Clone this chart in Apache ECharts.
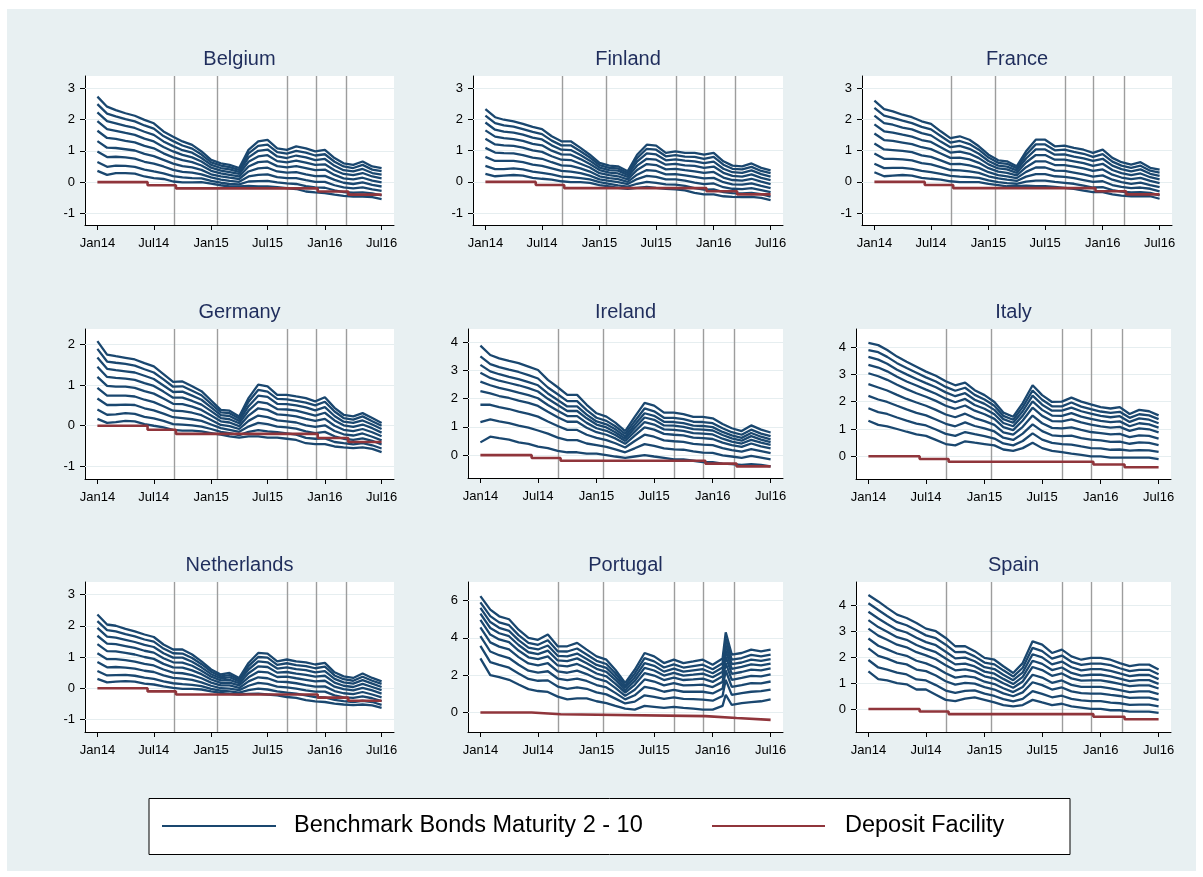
<!DOCTYPE html>
<html><head><meta charset="utf-8">
<script src="https://cdn.jsdelivr.net/npm/echarts@6/dist/echarts.min.js"></script>
<style>
html,body{margin:0;padding:0;background:#fff;}
#bg{position:absolute;left:7px;top:9px;width:1189px;height:862px;background:#e8f0f2;}
#chart{position:absolute;left:0;top:0;width:1203px;height:877px;}
</style>
</head><body><div id="bg"></div><div id="chart"></div>
<script>
// ---------------- DATA ----------------
const monthDates = ['2014-01-01','2014-02-01','2014-03-01','2014-04-01','2014-05-01','2014-06-01','2014-07-01','2014-08-01','2014-09-01','2014-10-01','2014-11-01','2014-12-01',
 '2015-01-01','2015-02-01','2015-03-01','2015-04-01','2015-05-01','2015-06-01','2015-07-01','2015-08-01','2015-09-01','2015-10-01','2015-11-01','2015-12-01',
 '2016-01-01','2016-02-01','2016-03-01','2016-04-01','2016-05-01','2016-06-01','2016-07-01'];
// Portugal has one extra observation at its February 2016 spike
const portugalDates = ['2014-01-01','2014-02-01','2014-03-01','2014-04-01','2014-05-01','2014-06-01','2014-07-01','2014-08-01','2014-09-01','2014-10-01','2014-11-01','2014-12-01',
 '2015-01-01','2015-02-01','2015-03-01','2015-04-01','2015-05-01','2015-06-01','2015-07-01','2015-08-01','2015-09-01','2015-10-01','2015-11-01','2015-12-01',
 '2016-01-01','2016-02-01','2016-02-11','2016-03-01','2016-04-01','2016-05-01','2016-06-01','2016-07-01'];
const xTickDates = ['2014-01-01','2014-07-01','2015-01-01','2015-07-01','2016-01-01','2016-07-01'];
const xTickLabels = ['Jan14','Jul14','Jan15','Jul15','Jan16','Jul16'];
const eventDates = ['2014-09-04','2015-01-22','2015-09-03','2015-12-03','2016-03-10'];
const depositDates = ['2014-01-01','2014-06-11','2014-09-10','2015-12-09','2016-03-16','2016-07-01'];
const depositRates = [0,-0.1,-0.2,-0.3,-0.4,-0.4];
const countryNames = ['Belgium','Finland','France','Germany','Ireland','Italy','Netherlands','Portugal','Spain'];
const TICKS_CORE = [-1,0,1,2,3];
const TICKS_DE = [-1,0,1,2];
const TICKS_HIGH = [0,1,2,3,4];
const TICKS_PT = [0,2,4,6];

// Belgium 2y..10y
const BE_2 = [.36,.23,.29,.29,.27,.18,.13,.10,.02,-.01,-.01,0,-.05,-.10,-.14,-.14,-.12,-.14,-.14,-.16,-.19,-.22,-.30,-.33,-.35,-.40,-.44,-.46,-.46,-.48,-.54];
const BE_3 = [.64,.49,.53,.52,.49,.40,.34,.28,.19,.15,.13,.12,.04,-.02,-.06,-.07,.02,.03,.04,-.01,-.04,-.06,-.13,-.17,-.18,-.26,-.32,-.34,-.33,-.36,-.42];
const BE_4 = [.98,.80,.81,.79,.75,.65,.59,.50,.39,.33,.30,.25,.15,.08,.04,.01,.18,.23,.25,.16,.13,.13,.06,.01,.01,-.10,-.17,-.20,-.17,-.23,-.28];
const BE_5 = [1.31,1.10,1.09,1.05,1.01,.90,.83,.71,.59,.51,.47,.39,.25,.18,.14,.10,.34,.44,.46,.34,.30,.32,.25,.19,.20,.07,-.02,-.06,-.01,-.09,-.14];
const BE_6 = [1.64,1.41,1.38,1.32,1.27,1.16,1.08,.92,.79,.70,.64,.53,.36,.28,.23,.18,.50,.64,.66,.51,.47,.51,.45,.38,.40,.23,.12,.09,.14,.05,-.01];
const BE_7 = [1.95,1.69,1.64,1.57,1.51,1.39,1.30,1.12,.98,.87,.79,.66,.46,.37,.32,.26,.65,.82,.86,.67,.63,.69,.62,.55,.57,.38,.26,.22,.29,.18,.12];
const BE_8 = [2.23,1.95,1.88,1.80,1.73,1.61,1.51,1.30,1.15,1.02,.94,.77,.55,.45,.41,.33,.79,1.00,1.04,.82,.77,.85,.79,.70,.74,.52,.38,.34,.42,.29,.24];
const BE_9 = [2.49,2.19,2.10,2.01,1.94,1.81,1.71,1.47,1.31,1.17,1.07,.88,.63,.53,.48,.39,.92,1.16,1.20,.96,.91,1.00,.94,.85,.89,.65,.50,.45,.55,.40,.35];
const BE_10 = [2.73,2.41,2.30,2.20,2.12,1.99,1.88,1.62,1.45,1.30,1.19,.98,.71,.60,.55,.45,1.03,1.30,1.35,1.08,1.03,1.14,1.08,.98,1.03,.77,.60,.55,.66,.50,.45];

// Finland
const FI_2 = [.26,.18,.20,.22,.20,.13,.10,.07,.02,-.01,-.01,-.03,-.10,-.14,-.19,-.22,-.19,-.16,-.19,-.22,-.24,-.27,-.35,-.40,-.40,-.46,-.48,-.49,-.48,-.51,-.58];
const FI_3 = [.51,.41,.41,.43,.40,.33,.29,.24,.17,.15,.12,.08,-.01,-.06,-.11,-.15,-.06,0,-.03,-.08,-.09,-.13,-.20,-.25,-.24,-.33,-.36,-.37,-.35,-.39,-.47];
const FI_4 = [.80,.67,.67,.67,.63,.55,.51,.43,.35,.33,.28,.20,.08,.03,-.01,-.07,.09,.19,.16,.08,.08,.04,-.02,-.07,-.05,-.17,-.22,-.23,-.20,-.26,-.33];
const FI_5 = [1.09,.94,.92,.91,.86,.78,.74,.63,.53,.51,.43,.33,.18,.12,.09,0,.23,.38,.35,.24,.25,.21,.16,.11,.13,-.01,-.08,-.09,-.05,-.13,-.20];
const FI_6 = [1.38,1.20,1.17,1.15,1.10,1.01,.96,.82,.71,.70,.58,.46,.28,.22,.18,.08,.38,.57,.54,.40,.42,.38,.34,.29,.32,.14,.06,.04,.10,.01,-.07];
const FI_7 = [1.65,1.45,1.40,1.37,1.31,1.22,1.17,1.00,.88,.87,.73,.57,.38,.30,.27,.16,.52,.74,.71,.55,.58,.53,.51,.45,.49,.29,.19,.17,.24,.13,.06];
const FI_8 = [1.90,1.67,1.61,1.58,1.51,1.42,1.36,1.17,1.03,1.02,.86,.68,.46,.38,.36,.22,.65,.91,.88,.69,.72,.68,.66,.60,.65,.42,.31,.29,.37,.25,.17];
const FI_9 = [2.12,1.88,1.81,1.77,1.69,1.60,1.53,1.32,1.17,1.17,.98,.78,.54,.45,.43,.28,.76,1.06,1.03,.82,.86,.81,.80,.74,.80,.55,.42,.40,.48,.35,.28];
const FI_10 = [2.33,2.07,1.99,1.94,1.86,1.76,1.69,1.46,1.30,1.30,1.09,.87,.61,.52,.50,.34,.87,1.19,1.16,.93,.98,.93,.93,.87,.93,.66,.52,.50,.59,.45,.37];

// France
const FR_2 = [.31,.18,.20,.22,.20,.13,.10,.07,.02,-.01,-.01,-.01,-.06,-.10,-.14,-.14,-.12,-.14,-.14,-.16,-.19,-.22,-.28,-.33,-.33,-.40,-.44,-.46,-.46,-.46,-.54];
const FR_3 = [.58,.44,.45,.45,.42,.35,.31,.26,.19,.17,.15,.13,.05,-.01,-.04,-.06,.01,.04,.04,0,-.03,-.06,-.12,-.18,-.17,-.26,-.31,-.34,-.33,-.35,-.43];
const FR_4 = [.91,.74,.74,.72,.69,.60,.56,.47,.38,.37,.34,.29,.18,.11,.07,.03,.17,.25,.25,.18,.16,.12,.06,0,.02,-.10,-.16,-.20,-.18,-.22,-.30];
const FR_5 = [1.23,1.04,1.02,.99,.95,.85,.80,.69,.57,.58,.53,.45,.31,.22,.18,.12,.32,.46,.46,.36,.35,.30,.24,.17,.21,.07,-.01,-.06,-.02,-.10,-.17];
const FR_6 = [1.55,1.34,1.31,1.26,1.21,1.11,1.05,.91,.77,.78,.72,.61,.44,.33,.29,.21,.47,.66,.66,.54,.54,.49,.43,.35,.40,.23,.14,.09,.13,.03,-.04];
const FR_7 = [1.84,1.62,1.58,1.51,1.45,1.34,1.28,1.11,.94,.97,.90,.76,.56,.43,.40,.29,.62,.86,.86,.71,.71,.66,.60,.51,.58,.38,.28,.22,.27,.15,.08];
const FR_8 = [2.12,1.88,1.83,1.74,1.68,1.56,1.49,1.29,1.11,1.15,1.06,.90,.67,.52,.49,.37,.75,1.04,1.04,.87,.88,.81,.75,.67,.74,.52,.41,.34,.40,.26,.19];
const FR_9 = [2.37,2.12,2.05,1.96,1.88,1.76,1.68,1.47,1.26,1.31,1.21,1.03,.78,.61,.58,.44,.87,1.20,1.20,1.01,1.03,.96,.90,.80,.89,.65,.52,.45,.52,.36,.30];
const FR_10 = [2.60,2.33,2.26,2.15,2.07,1.94,1.86,1.62,1.40,1.46,1.35,1.14,.87,.69,.66,.50,.98,1.35,1.35,1.14,1.16,1.09,1.03,.93,1.03,.77,.63,.55,.63,.45,.39];

// Germany
const DE_2 = [.17,.07,.09,.12,.11,.04,0,-.04,-.10,-.12,-.12,-.14,-.18,-.22,-.26,-.29,-.26,-.26,-.29,-.29,-.32,-.35,-.43,-.45,-.45,-.51,-.53,-.55,-.53,-.57,-.65];
const DE_3 = [.40,.27,.28,.31,.29,.22,.18,.12,.04,.03,.01,-.02,-.08,-.15,-.18,-.23,-.15,-.11,-.14,-.16,-.19,-.22,-.30,-.32,-.31,-.40,-.43,-.46,-.43,-.48,-.56];
const DE_4 = [.67,.51,.51,.52,.51,.43,.38,.30,.21,.19,.16,.12,.03,-.06,-.10,-.15,-.02,.07,.04,-.02,-.04,-.07,-.14,-.18,-.15,-.26,-.32,-.35,-.31,-.37,-.46];
const DE_5 = [.93,.74,.74,.74,.72,.64,.58,.48,.37,.36,.32,.26,.14,.02,-.01,-.08,.12,.25,.21,.13,.11,.08,.01,-.03,.01,-.13,-.21,-.24,-.19,-.27,-.36];
const DE_6 = [1.20,.98,.96,.96,.93,.85,.79,.67,.54,.53,.47,.39,.25,.11,.08,-.01,.25,.43,.39,.28,.26,.23,.17,.12,.17,0,-.10,-.13,-.08,-.16,-.26];
const DE_7 = [1.45,1.20,1.18,1.16,1.13,1.05,.98,.84,.69,.69,.61,.52,.36,.19,.16,.06,.37,.59,.55,.41,.40,.37,.31,.25,.32,.13,.01,-.03,.03,-.06,-.17];
const DE_8 = [1.68,1.40,1.37,1.34,1.31,1.23,1.15,.99,.83,.84,.74,.64,.45,.26,.24,.12,.48,.74,.71,.54,.53,.50,.45,.38,.46,.24,.10,.07,.13,.03,-.08];
const DE_9 = [1.89,1.58,1.55,1.52,1.48,1.39,1.31,1.14,.96,.97,.86,.75,.54,.33,.31,.18,.59,.88,.84,.66,.65,.61,.57,.50,.59,.35,.19,.15,.23,.11,0];
const DE_10 = [2.08,1.75,1.71,1.67,1.63,1.54,1.46,1.27,1.08,1.09,.97,.85,.62,.39,.37,.23,.68,1.01,.97,.76,.76,.72,.68,.60,.70,.44,.27,.23,.31,.19,.07];

// Ireland
const IE_2 = [.45,.65,.60,.55,.45,.40,.30,.25,.15,.10,.10,.05,.05,0,-.05,-.10,-.05,0,-.05,-.10,-.15,-.15,-.20,-.25,-.25,-.30,-.32,-.35,-.32,-.35,-.40];
const IE_3 = [1.17,1.26,1.19,1.13,1.04,.97,.87,.76,.62,.53,.53,.41,.35,.29,.20,.10,.24,.39,.33,.24,.20,.19,.13,.09,.08,-.01,-.05,-.10,-.03,-.09,-.15];
const IE_4 = [1.78,1.78,1.70,1.63,1.54,1.46,1.36,1.19,1.03,.89,.89,.72,.61,.53,.42,.27,.50,.72,.65,.52,.49,.47,.40,.37,.35,.25,.18,.12,.21,.14,.07];
const IE_5 = [2.26,2.18,2.09,2.02,1.93,1.85,1.74,1.53,1.34,1.18,1.18,.97,.81,.72,.59,.40,.69,.98,.90,.75,.72,.70,.62,.60,.57,.44,.35,.29,.41,.31,.24];
const IE_6 = [2.60,2.47,2.38,2.30,2.21,2.12,2.01,1.77,1.57,1.38,1.38,1.14,.95,.86,.71,.50,.83,1.17,1.08,.91,.89,.86,.78,.76,.73,.58,.48,.41,.54,.44,.36];
const IE_7 = [2.91,2.73,2.63,2.55,2.47,2.37,2.25,1.99,1.77,1.56,1.56,1.30,1.08,.98,.81,.58,.96,1.33,1.25,1.05,1.04,1.00,.92,.90,.87,.71,.59,.51,.67,.55,.46];
const IE_8 = [3.19,2.96,2.86,2.77,2.69,2.58,2.47,2.18,1.95,1.72,1.72,1.43,1.19,1.09,.91,.66,1.07,1.48,1.39,1.18,1.17,1.13,1.04,1.03,.99,.82,.70,.61,.78,.65,.56];
const IE_9 = [3.49,3.22,3.11,3.02,2.94,2.83,2.71,2.39,2.15,1.91,1.91,1.59,1.32,1.21,1.02,.75,1.20,1.65,1.55,1.32,1.32,1.27,1.18,1.17,1.13,.95,.81,.72,.90,.76,.67];
const IE_10 = [3.87,3.54,3.42,3.33,3.25,3.13,3.01,2.66,2.40,2.13,2.13,1.78,1.48,1.36,1.15,.85,1.35,1.85,1.75,1.50,1.50,1.45,1.35,1.35,1.30,1.10,.95,.85,1.05,.90,.80];

// Italy
const IT_2 = [1.30,1.15,1.10,1.00,.90,.80,.75,.60,.45,.40,.55,.50,.45,.40,.25,.20,.30,.50,.30,.20,.15,.10,.05,0,0,-.05,-.05,-.05,-.05,-.05,-.10];
const IT_3 = [1.76,1.62,1.55,1.42,1.31,1.20,1.13,.98,.82,.75,.89,.81,.74,.65,.47,.40,.56,.84,.61,.49,.45,.43,.36,.30,.29,.24,.25,.21,.23,.22,.16];
const IT_4 = [2.21,2.08,1.99,1.85,1.72,1.59,1.50,1.35,1.19,1.10,1.24,1.11,1.02,.91,.68,.60,.83,1.17,.92,.77,.74,.76,.67,.61,.58,.53,.54,.46,.51,.49,.41];
const IT_5 = [2.64,2.52,2.41,2.25,2.10,1.97,1.85,1.70,1.53,1.43,1.56,1.40,1.29,1.15,.88,.79,1.08,1.49,1.21,1.04,1.02,1.06,.97,.89,.85,.80,.82,.70,.77,.75,.65];
const IT_6 = [3.04,2.93,2.80,2.62,2.46,2.31,2.18,2.03,1.85,1.74,1.86,1.67,1.54,1.37,1.07,.96,1.31,1.78,1.48,1.29,1.28,1.35,1.24,1.16,1.10,1.05,1.08,.93,1.02,.99,.88];
const IT_7 = [3.35,3.25,3.11,2.91,2.74,2.59,2.44,2.29,2.11,1.98,2.10,1.88,1.74,1.54,1.22,1.10,1.49,2.01,1.70,1.49,1.48,1.58,1.45,1.37,1.30,1.25,1.28,1.10,1.21,1.17,1.05];
const IT_8 = [3.64,3.54,3.39,3.17,3.00,2.83,2.68,2.53,2.34,2.20,2.31,2.07,1.92,1.70,1.36,1.23,1.65,2.22,1.89,1.67,1.67,1.78,1.65,1.56,1.48,1.43,1.47,1.26,1.39,1.34,1.21];
const IT_9 = [3.89,3.81,3.64,3.41,3.23,3.06,2.89,2.74,2.54,2.40,2.51,2.25,2.08,1.85,1.48,1.34,1.80,2.41,2.07,1.83,1.83,1.97,1.82,1.73,1.64,1.59,1.63,1.41,1.54,1.50,1.36];
const IT_10 = [4.15,4.07,3.89,3.65,3.46,3.28,3.10,2.95,2.75,2.60,2.70,2.42,2.24,1.99,1.60,1.45,1.95,2.60,2.24,1.99,2.00,2.15,2.00,1.90,1.80,1.75,1.80,1.55,1.70,1.65,1.50];

// Netherlands
const NL_2 = [.30,.19,.21,.23,.21,.15,.12,.06,.01,-.02,-.02,-.04,-.10,-.15,-.18,-.20,-.18,-.17,-.20,-.23,-.28,-.31,-.38,-.42,-.44,-.49,-.52,-.54,-.52,-.55,-.63];
const NL_3 = [.55,.41,.42,.43,.40,.34,.30,.22,.16,.13,.11,.07,-.02,-.08,-.10,-.14,-.06,-.01,-.04,-.10,-.14,-.17,-.23,-.28,-.29,-.37,-.41,-.44,-.40,-.44,-.53];
const NL_4 = [.84,.67,.68,.66,.63,.56,.52,.41,.33,.31,.27,.19,.08,0,-.01,-.06,.08,.17,.14,.05,.03,-.01,-.07,-.11,-.11,-.23,-.29,-.31,-.26,-.32,-.41];
const NL_5 = [1.12,.93,.93,.90,.85,.78,.73,.60,.50,.48,.42,.32,.18,.09,.09,.01,.22,.35,.32,.21,.20,.16,.10,.05,.06,-.09,-.16,-.19,-.12,-.20,-.29];
const NL_6 = [1.41,1.19,1.18,1.13,1.08,1.00,.94,.78,.67,.66,.57,.45,.28,.17,.18,.09,.35,.53,.51,.36,.37,.32,.27,.22,.24,.05,-.03,-.07,.01,-.07,-.17];
const NL_7 = [1.68,1.43,1.41,1.35,1.29,1.20,1.14,.96,.83,.82,.72,.56,.37,.25,.27,.16,.48,.70,.68,.50,.52,.47,.43,.37,.40,.18,.08,.04,.14,.04,-.06];
const NL_8 = [1.93,1.65,1.62,1.55,1.48,1.39,1.32,1.12,.98,.98,.85,.67,.45,.32,.35,.22,.60,.86,.83,.63,.67,.61,.58,.51,.55,.30,.19,.15,.26,.15,.04];
const NL_9 = [2.15,1.86,1.82,1.73,1.66,1.56,1.49,1.27,1.12,1.11,.97,.77,.53,.38,.42,.28,.71,1.00,.98,.75,.80,.74,.71,.64,.69,.41,.29,.24,.37,.24,.14];
const NL_10 = [2.36,2.04,2.00,1.90,1.82,1.72,1.64,1.40,1.24,1.24,1.08,.86,.60,.44,.49,.33,.81,1.13,1.11,.86,.92,.86,.83,.76,.81,.51,.38,.33,.47,.33,.22];

// Portugal (32 observations, see portugalDates)
const PT_2 = [2.90,2.00,1.90,1.75,1.50,1.25,1.15,1.10,.85,.70,.75,.75,.60,.50,.35,.20,.15,.35,.30,.25,.30,.25,.20,.15,.15,.35,.95,.40,.50,.55,.60,.70];
const PT_3 = [3.57,2.70,2.55,2.40,2.09,1.80,1.70,1.72,1.39,1.27,1.35,1.27,1.08,.97,.74,.48,.58,.92,.84,.73,.81,.73,.71,.69,.63,.88,1.75,.94,1.04,1.11,1.14,1.23];
const PT_4 = [4.10,3.27,3.07,2.92,2.56,2.24,2.14,2.21,1.82,1.73,1.82,1.69,1.47,1.34,1.05,.70,.92,1.37,1.28,1.11,1.21,1.11,1.11,1.11,1.02,1.28,2.25,1.37,1.47,1.57,1.56,1.66];
const PT_5 = [4.57,3.76,3.53,3.38,2.97,2.63,2.53,2.64,2.20,2.13,2.24,2.06,1.81,1.67,1.32,.89,1.22,1.77,1.66,1.45,1.57,1.45,1.47,1.49,1.36,1.64,2.65,1.75,1.85,1.96,1.94,2.04];
const PT_6 = [4.97,4.18,3.92,3.77,3.32,2.96,2.86,3.01,2.52,2.47,2.60,2.37,2.09,1.94,1.55,1.06,1.48,2.11,1.98,1.74,1.87,1.74,1.77,1.81,1.64,1.94,3.00,2.07,2.17,2.30,2.26,2.36];
const PT_7 = [5.30,4.53,4.25,4.09,3.62,3.23,3.13,3.32,2.79,2.75,2.90,2.64,2.34,2.18,1.75,1.19,1.69,2.39,2.25,1.98,2.12,1.98,2.03,2.08,1.89,2.19,3.30,2.34,2.44,2.58,2.53,2.62];
const PT_8 = [5.61,4.85,4.54,4.38,3.88,3.48,3.38,3.59,3.04,3.01,3.16,2.87,2.55,2.39,1.92,1.32,1.88,2.65,2.50,2.19,2.35,2.19,2.26,2.32,2.10,2.41,3.60,2.59,2.68,2.83,2.77,2.86];
const PT_9 = [5.91,5.17,4.83,4.68,4.15,3.73,3.63,3.87,3.28,3.27,3.43,3.11,2.77,2.60,2.10,1.44,2.08,2.91,2.74,2.41,2.58,2.41,2.49,2.56,2.32,2.64,3.95,2.83,2.92,3.09,3.01,3.10];
const PT_10 = [6.24,5.52,5.16,5.00,4.44,4.00,3.90,4.18,3.55,3.55,3.73,3.37,3.01,2.83,2.29,1.58,2.29,3.19,3.01,2.65,2.83,2.65,2.74,2.83,2.56,2.89,4.30,3.10,3.19,3.37,3.28,3.37];

// Spain
const ES_2 = [1.45,1.15,1.10,1.00,.95,.75,.75,.55,.35,.30,.40,.45,.35,.25,.15,.10,.15,.35,.25,.15,.20,.10,.05,0,0,-.05,-.05,-.10,-.10,-.10,-.15];
const ES_3 = [1.89,1.60,1.52,1.40,1.33,1.14,1.10,.92,.71,.62,.70,.72,.59,.50,.38,.29,.39,.69,.58,.45,.51,.39,.33,.30,.30,.24,.22,.16,.17,.17,.10];
const ES_4 = [2.34,2.05,1.94,1.79,1.72,1.52,1.46,1.29,1.07,.94,1.01,.98,.84,.75,.60,.49,.64,1.03,.92,.75,.83,.68,.61,.59,.59,.54,.50,.43,.44,.44,.35];
const ES_5 = [2.72,2.44,2.30,2.14,2.05,1.86,1.76,1.60,1.38,1.21,1.27,1.22,1.05,.96,.80,.65,.85,1.32,1.21,1.01,1.10,.93,.85,.85,.85,.79,.73,.65,.68,.68,.57];
const ES_6 = [3.10,2.83,2.67,2.48,2.38,2.19,2.07,1.92,1.69,1.49,1.53,1.45,1.26,1.17,.99,.82,1.06,1.62,1.50,1.28,1.37,1.18,1.09,1.10,1.10,1.04,.97,.88,.91,.91,.79];
const ES_7 = [3.43,3.16,2.98,2.77,2.67,2.47,2.32,2.19,1.95,1.72,1.75,1.64,1.44,1.36,1.16,.96,1.24,1.86,1.74,1.50,1.60,1.39,1.29,1.32,1.32,1.26,1.17,1.07,1.11,1.11,.97];
const ES_8 = [3.75,3.49,3.28,3.06,2.95,2.75,2.58,2.46,2.21,1.95,1.98,1.84,1.61,1.54,1.32,1.11,1.41,2.11,1.99,1.72,1.83,1.61,1.49,1.54,1.54,1.47,1.37,1.27,1.31,1.31,1.15];
const ES_9 = [4.08,3.82,3.59,3.35,3.23,3.04,2.84,2.73,2.48,2.19,2.20,2.03,1.79,1.72,1.49,1.25,1.59,2.36,2.23,1.94,2.06,1.82,1.70,1.75,1.75,1.69,1.57,1.46,1.51,1.51,1.34];
const ES_10 = [4.40,4.15,3.90,3.64,3.51,3.32,3.10,3.00,2.74,2.42,2.42,2.23,1.97,1.90,1.65,1.39,1.77,2.61,2.48,2.16,2.29,2.03,1.90,1.97,1.97,1.90,1.77,1.65,1.71,1.71,1.52];

// ---------------- LAYOUT / STYLE ----------------
const FONT = '"Liberation Sans", Arial, Helvetica, sans-serif';
const BLUE = '#1a476f', RED = '#90353b';
const ts = s => Date.parse(s + 'T00:00:00Z');

const panels = [
  {name: countryNames[0], dates: monthDates, series: [BE_2,BE_3,BE_4,BE_5,BE_6,BE_7,BE_8,BE_9,BE_10], ticks: TICKS_CORE, yMin: -1.37, yMax: 3.39, left: 85,  top: 76,  width: 309, height: 149},
  {name: countryNames[1], dates: monthDates, series: [FI_2,FI_3,FI_4,FI_5,FI_6,FI_7,FI_8,FI_9,FI_10], ticks: TICKS_CORE, yMin: -1.38, yMax: 3.39, left: 473, top: 76,  width: 310, height: 149},
  {name: countryNames[2], dates: monthDates, series: [FR_2,FR_3,FR_4,FR_5,FR_6,FR_7,FR_8,FR_9,FR_10], ticks: TICKS_CORE, yMin: -1.38, yMax: 3.39, left: 862, top: 76,  width: 310, height: 149},
  {name: countryNames[3], dates: monthDates, series: [DE_2,DE_3,DE_4,DE_5,DE_6,DE_7,DE_8,DE_9,DE_10], ticks: TICKS_DE,   yMin: -1.31, yMax: 2.38, left: 85,  top: 329, width: 309, height: 150},
  {name: countryNames[4], dates: monthDates, series: [IE_2,IE_3,IE_4,IE_5,IE_6,IE_7,IE_8,IE_9,IE_10], ticks: TICKS_HIGH, yMin: -0.81, yMax: 4.46, left: 468, top: 329, width: 315, height: 149},
  {name: countryNames[5], dates: monthDates, series: [IT_2,IT_3,IT_4,IT_5,IT_6,IT_7,IT_8,IT_9,IT_10], ticks: TICKS_HIGH, yMin: -0.83, yMax: 4.66, left: 856, top: 329, width: 315, height: 150},
  {name: countryNames[6], dates: monthDates, series: [NL_2,NL_3,NL_4,NL_5,NL_6,NL_7,NL_8,NL_9,NL_10], ticks: TICKS_CORE, yMin: -1.40, yMax: 3.40, left: 85,  top: 582, width: 309, height: 150},
  {name: countryNames[7], dates: portugalDates, series: [PT_2,PT_3,PT_4,PT_5,PT_6,PT_7,PT_8,PT_9,PT_10], ticks: TICKS_PT, yMin: -1.05, yMax: 7.00, left: 468, top: 582, width: 315, height: 150},
  {name: countryNames[8], dates: monthDates, series: [ES_2,ES_3,ES_4,ES_5,ES_6,ES_7,ES_8,ES_9,ES_10], ticks: TICKS_HIGH, yMin: -0.89, yMax: 4.90, left: 856, top: 582, width: 315, height: 150}
];

const xTickTs = xTickDates.map(ts);
const eventTs = eventDates.map(ts);
const xStart = xTickTs[0], xEnd = xTickTs[xTickTs.length - 1];
const EDGE_PX = 12.4;

function xLabel(v) {
  let best = 0, bd = Infinity;
  xTickTs.forEach((t, k) => { const d = Math.abs(t - v); if (d < bd) { bd = d; best = k; } });
  return xTickLabels[best];
}

const grids = [], xAxes = [], yAxes = [], series = [], graphics = [];
panels.forEach((p, i) => {
  const span = xEnd - xStart;
  const pad = EDGE_PX * span / (p.width - 2 * EDGE_PX);
  const dTs = p.dates.map(ts);
  grids.push({left: p.left, top: p.top, width: p.width, height: p.height, show: true,
    backgroundColor: '#ffffff', borderWidth: 0, containLabel: false});
  xAxes.push({type: 'value', gridIndex: i, min: xStart - pad, max: xEnd + pad,
    axisLine: {show: true, onZero: false, lineStyle: {color: '#000', width: 1}},
    axisTick: {show: true, length: 5, customValues: xTickTs, lineStyle: {color: '#000', width: 1}},
    axisLabel: {show: true, customValues: xTickTs, formatter: xLabel, margin: 12, fontSize: 13,
      color: '#000', fontFamily: FONT},
    splitLine: {show: false}});
  yAxes.push({type: 'value', gridIndex: i, min: p.yMin, max: p.yMax,
    axisLine: {show: true, onZero: false, lineStyle: {color: '#000', width: 1}},
    axisTick: {show: true, length: 5, customValues: p.ticks, lineStyle: {color: '#000', width: 1}},
    axisLabel: {show: true, customValues: p.ticks, margin: 10, fontSize: 13, color: '#000', fontFamily: FONT},
    splitLine: {show: false}});
  // horizontal grid lines (behind everything)
  series.push({type: 'line', xAxisIndex: i, yAxisIndex: i, data: [], silent: true, z: 1,
    markLine: {z: 1, silent: true, symbol: 'none', animation: false, label: {show: false},
      lineStyle: {color: '#e6eef0', width: 1.2, type: 'solid'},
      emphasis: {disabled: true},
      data: p.ticks.map(v => ({yAxis: v}))}});
  // ECB meeting lines
  series.push({type: 'line', xAxisIndex: i, yAxisIndex: i, data: [], silent: true, z: 2,
    markLine: {z: 2, silent: true, symbol: 'none', animation: false, label: {show: false},
      lineStyle: {color: '#9d9d9d', width: 1.4, type: 'solid'},
      emphasis: {disabled: true},
      data: eventTs.map(v => ({xAxis: v}))}});
  p.series.forEach((arr) => {
    series.push({type: 'line', name: 'Benchmark Bonds Maturity 2 - 10', xAxisIndex: i, yAxisIndex: i,
      data: arr.map((v, j) => [dTs[j], v]), showSymbol: false, symbol: 'none', silent: true, z: 3,
      lineStyle: {color: BLUE, width: 2.3}, animation: false});
  });
  series.push({type: 'line', name: 'Deposit Facility', xAxisIndex: i, yAxisIndex: i,
    data: depositDates.map((d, j) => [ts(d), depositRates[j]]),
    step: 'end', showSymbol: false, symbol: 'none', silent: true, z: 4,
    lineStyle: {color: RED, width: 2.6}, animation: false});
  graphics.push({type: 'text', x: p.left + p.width / 2, y: p.top - 17,
    style: {text: p.name, fill: '#1f2d5c', font: '20px ' + FONT, textAlign: 'center', textVerticalAlign: 'middle'}});
});

// legend box
graphics.push({type: 'rect', shape: {x: 149, y: 798.5, width: 921, height: 56},
  style: {fill: '#ffffff', stroke: '#000', lineWidth: 1}});
graphics.push({type: 'line', shape: {x1: 162, y1: 826, x2: 276, y2: 826}, style: {stroke: BLUE, lineWidth: 2.2}});
graphics.push({type: 'text', x: 294, y: 826, style: {text: 'Benchmark Bonds Maturity 2 - 10', fill: '#000',
  font: '23.5px ' + FONT, textAlign: 'left', textVerticalAlign: 'middle'}});
graphics.push({type: 'line', shape: {x1: 712, y1: 826, x2: 825, y2: 826}, style: {stroke: RED, lineWidth: 2.2}});
graphics.push({type: 'text', x: 845, y: 826, style: {text: 'Deposit Facility', fill: '#000',
  font: '23.5px ' + FONT, textAlign: 'left', textVerticalAlign: 'middle'}});

const chart = echarts.init(document.getElementById('chart'), null, {renderer: 'canvas'});
chart.setOption({
  animation: false,
  grid: grids, xAxis: xAxes, yAxis: yAxes, series: series,
  graphic: graphics
});
</script>
</body></html>
